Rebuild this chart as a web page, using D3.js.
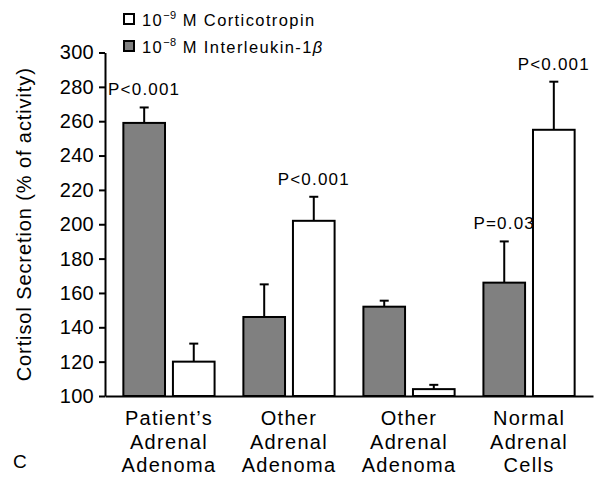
<!DOCTYPE html>
<html>
<head>
<meta charset="utf-8">
<script src="https://cdn.jsdelivr.net/npm/d3@7"></script>
<style>
  body { margin: 0; background: #fff; }
  text { font-family: "Liberation Sans", Arial, Helvetica, sans-serif; fill: #000; }
</style>
</head>
<body>
<svg width="595" height="477"></svg>
<script>
// data
var categories = ["Patient\u2019s Adrenal Adenoma", "Other Adrenal Adenoma", "Other Adrenal Adenoma ", "Normal Adrenal Cells"];
var catLines = [["Patient\u2019s", "Adrenal", "Adenoma"], ["Other", "Adrenal", "Adenoma"], ["Other", "Adrenal", "Adenoma"], ["Normal", "Adrenal", "Cells"]];
var series = ["il", "acth"];
var ilMean = [259, 146, 152, 166];
var ilErr = [9, 19, 3.5, 24];
var acthMean = [120, 202, 104, 255];
var acthErr = [10.5, 14, 2.5, 28];
var yTicks = [100, 120, 140, 160, 180, 200, 220, 240, 260, 280, 300];
var pGroup = [0, 1, 3, 3];
var pSeries = ["il", "acth", "il", "acth"];
var pText = ["P<0.001", "P<0.001", "P=0.03", "P<0.001"];

var svg = d3.select("svg");

var x0 = d3.scaleBand().domain(categories).range([105, 593]).paddingInner(0.24).paddingOuter(0.153);
var x1 = d3.scaleBand().domain(series).range([0, x0.bandwidth()]).paddingInner(0.16);
var y = d3.scaleLinear().domain([100, 300]).range([396, 52.5]);
var fill = { il: "#808080", acth: "#ffffff" };

var rows = [];
categories.forEach(function(c, i) {
  rows.push({ cat: c, s: "il", v: ilMean[i], e: ilErr[i] });
  rows.push({ cat: c, s: "acth", v: acthMean[i], e: acthErr[i] });
});

// error bars (drawn first, bars sit on top)
var eb = svg.append("g");
eb.selectAll("line.v").data(rows).enter().append("line")
  .attr("x1", function(d) { return x0(d.cat) + x1(d.s) + x1.bandwidth() / 2; })
  .attr("x2", function(d) { return x0(d.cat) + x1(d.s) + x1.bandwidth() / 2; })
  .attr("y1", function(d) { return y(d.v); })
  .attr("y2", function(d) { return y(d.v + d.e); })
  .attr("stroke", "#000").attr("stroke-width", 2);
eb.selectAll("line.c").data(rows).enter().append("line")
  .attr("x1", function(d) { return x0(d.cat) + x1(d.s) + x1.bandwidth() / 2 - 4.5; })
  .attr("x2", function(d) { return x0(d.cat) + x1(d.s) + x1.bandwidth() / 2 + 4.5; })
  .attr("y1", function(d) { return y(d.v + d.e); })
  .attr("y2", function(d) { return y(d.v + d.e); })
  .attr("stroke", "#000").attr("stroke-width", 2);

svg.append("g").selectAll("rect").data(rows).enter().append("rect")
  .attr("x", function(d) { return x0(d.cat) + x1(d.s); })
  .attr("y", function(d) { return y(d.v); })
  .attr("width", x1.bandwidth())
  .attr("height", function(d) { return y(100) - y(d.v); })
  .attr("fill", function(d) { return fill[d.s]; })
  .attr("stroke", "#000").attr("stroke-width", 2);

// y axis
var ya = svg.append("g").attr("transform", "translate(105,0)")
  .call(d3.axisLeft(y).tickValues(yTicks).tickSize(6).tickPadding(5).tickSizeOuter(0));
ya.selectAll("path, line").attr("stroke", "#000").attr("stroke-width", 2);
ya.selectAll("text").style("font-size", "20px").style("letter-spacing", "0.3px")
  .style("font-family", "Liberation Sans, Arial, sans-serif");

// x axis
var xa = svg.append("g").attr("transform", "translate(0," + y(100) + ")")
  .call(d3.axisBottom(x0).tickSize(0).tickSizeOuter(0).tickFormat(""));
xa.select(".domain").attr("stroke", "#000").attr("stroke-width", 2);
xa.selectAll(".tick text").remove();
xa.selectAll(".tick").each(function(d, i) {
  var t = d3.select(this).append("text")
    .attr("text-anchor", "middle")
    .style("font-size", "20px").style("letter-spacing", "1.3px")
    .style("font-family", "Liberation Sans, Arial, sans-serif");
  catLines[i].forEach(function(l, j) {
    t.append("tspan").attr("x", 0).attr("y", 29 + j * 23.5).text(l);
  });
});

// y title
svg.append("text")
  .attr("transform", "translate(31," + (y(200)) + ") rotate(-90)")
  .attr("text-anchor", "middle")
  .style("font-size", "20px").style("letter-spacing", "0.9px")
  .text("Cortisol Secretion (% of activity)");

// p values
pText.forEach(function(t, i) {
  var c = categories[pGroup[i]], s = pSeries[i];
  var v = s === "il" ? ilMean[pGroup[i]] + ilErr[pGroup[i]] : acthMean[pGroup[i]] + acthErr[pGroup[i]];
  svg.append("text")
    .attr("x", x0(c) + x1(s) + x1.bandwidth() / 2)
    .attr("y", y(v) - 12)
    .attr("text-anchor", "middle")
    .style("font-size", "17px").style("letter-spacing", "1.2px")
    .text(t);
});

// legend
var leg = [
  { s: "acth", exp: "\u22129", name: " M Corticotropin" },
  { s: "il", exp: "\u22128", name: " M Interleukin-1" }
];
leg.forEach(function(d, i) {
  var by = 26 + i * 27;
  svg.append("rect").attr("x", 124).attr("y", by - 12).attr("width", 10).attr("height", 10)
    .attr("fill", fill[d.s]).attr("stroke", "#000").attr("stroke-width", 2);
  var t = svg.append("text").attr("x", 142).attr("y", by).style("font-size", "16.5px").style("letter-spacing", "1.4px");
  t.append("tspan").text("10");
  t.append("tspan").attr("dy", -7).style("font-size", "11px").style("letter-spacing", "0.5px").text(d.exp);
  t.append("tspan").attr("dy", 7).text(d.name);
  if (d.s === "il") t.append("tspan").style("font-style", "italic").text("\u03b2");
});

svg.append("text").attr("x", 13).attr("y", 468).style("font-size", "19px").text("C");
</script>
</body>
</html>
